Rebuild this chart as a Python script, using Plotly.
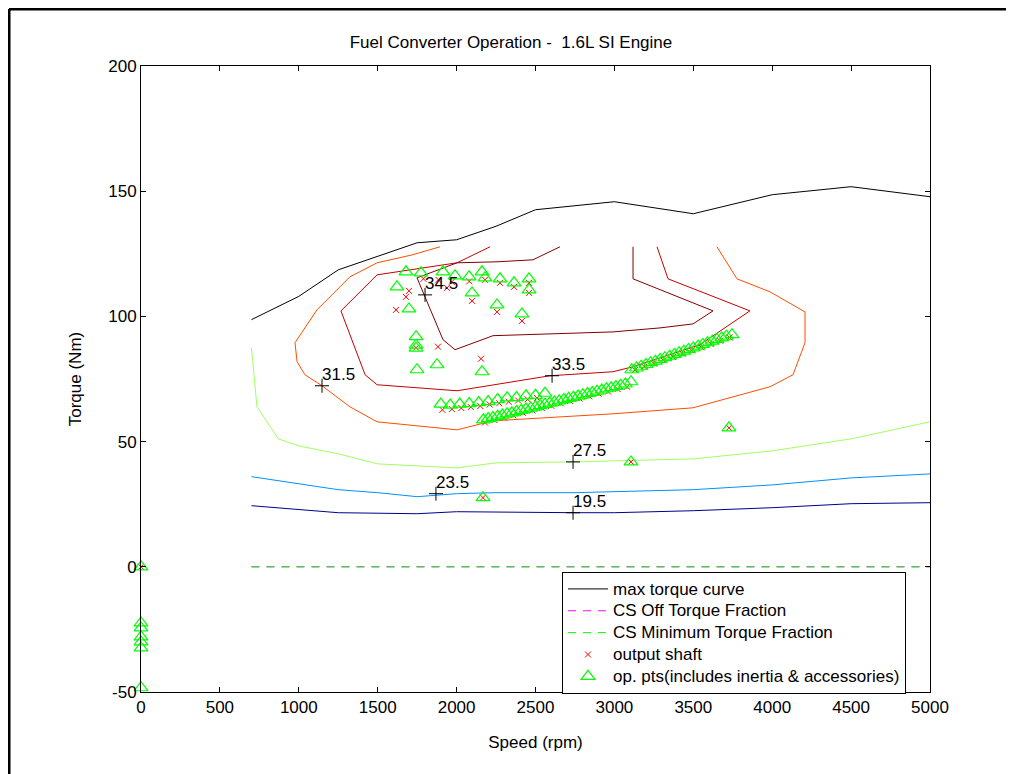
import plotly.graph_objects as go

# ---------------- data ----------------
max_trq_spd = [700, 1000, 1250, 1500, 1750, 2000, 2250, 2500, 3000, 3500, 4000, 4500, 5000]
max_trq = [98.7, 108.0, 118.6, 124.0, 129.4, 130.6, 136.0, 142.6, 145.8, 141.0, 148.6, 151.8, 147.8]

cs_line_spd = [700, 5000]
cs_off_trq = [0, 0]
cs_min_trq = [0, 0]

c195_spd = [700, 1250, 1750, 2000, 2750, 3000, 3500, 4000, 4500, 5000]
c195_trq = [24.4, 21.6, 21.2, 22.0, 21.6, 21.6, 22.4, 23.6, 25.2, 25.6]

c235_spd = [700, 1000, 1250, 1500, 1750, 2000, 2250, 2750, 3250, 3500, 4000, 4500, 5000]
c235_trq = [36.0, 33.0, 30.8, 29.6, 28.0, 29.2, 29.6, 29.6, 30.4, 30.8, 32.7, 35.5, 37.1]

c275_spd = [700, 735, 870, 1000, 1250, 1500, 2000, 2250, 2750, 3250, 3500, 4000, 4500, 5000]
c275_trq = [87.5, 63.9, 51.1, 48.3, 45.1, 41.1, 39.5, 41.5, 41.9, 42.7, 43.1, 46.3, 51.1, 57.9]

c315_spd = [1895, 1720, 1496, 1324, 1115, 976, 989, 1039, 1147, 1324, 1496, 2003, 2231, 2655,
            2991, 3498, 3986, 4132, 4208, 4208, 3986, 3777, 3650]
c315_trq = [127.8, 124.6, 121.4, 115.8, 102.6, 89.5, 81.9, 76.7, 72.3, 63.9, 57.9, 54.7, 58.3, 59.9,
            61.1, 63.5, 71.9, 76.7, 89.5, 101.8, 109.8, 115.0, 127.8]

c335_spd = [2212, 2003, 1496, 1267, 1420, 1496, 2003, 2592, 2991, 3118, 3542, 3859, 3340, 3270]
c335_trq = [127.8, 121.4, 116.6, 102.2, 76.7, 72.7, 70.3, 76.3, 77.9, 79.9, 88.7, 102.2, 115.0, 127.8]

c345_spd = [2655, 2484, 2256, 2003, 1749, 1914, 1990, 2231, 2991, 3289, 3498, 3625, 3118, 3118]
c345_trq = [127.8, 122.6, 121.8, 121.4, 115.4, 90.7, 86.7, 92.3, 93.8, 95.4, 97.0, 102.2, 115.0, 127.8]

label_vals = ["34.5", "33.5", "31.5", "27.5", "23.5", "19.5"]
label_spd = [1800, 2605, 1147, 2738, 1869, 2738]
label_trq = [108.6, 76.3, 72.3, 41.9, 29.2, 21.6]

op_spd = [0, 0, 0, 0, 0, 0, 0,
          1679, 1622, 1774, 1914, 1990, 2079, 2161, 2180, 2275, 2364, 2459, 2459, 2098, 2256, 2414,
          1698, 1743, 1743, 1743, 1749, 1876, 2161, 2167, 3105, 3726,
          1900, 1960, 2020, 2080, 2140, 2200, 2260, 2320, 2380, 2440, 2500, 2560,
          2170, 2200, 2230, 2260, 2290, 2320, 2350, 2380, 2410, 2440, 2470, 2500, 2530, 2560,
          2590, 2620, 2650, 2680, 2710, 2740, 2770, 2800, 2830, 2860, 2890, 2920, 2950, 2980,
          3010, 3040, 3070, 3105,
          3110, 3140, 3170, 3200, 3230, 3260, 3290, 3320, 3350, 3380, 3410, 3440, 3470, 3500,
          3530, 3560, 3590, 3620, 3650, 3680, 3710, 3745]
op_trq = [0, -22.4, -24.4, -28.0, -30.0, -32.4, -48.3,
          117.8, 111.8, 117.4, 117.8, 116.2, 115.8, 117.8, 115.4, 115.0, 113.4, 115.0, 110.6, 109.4, 104.6, 101.0,
          103.0, 91.9, 88.5, 87.3, 78.7, 80.7, 77.9, 27.6, 41.9, 55.5,
          65.0, 64.6, 65.0, 65.2, 65.6, 66.0, 66.8, 67.5, 67.6, 68.3, 68.5, 69.3,
          58.7, 59.2, 59.6, 60.1, 60.6, 61.1, 61.5, 62.0, 62.5, 63.0, 63.4, 63.9, 64.4, 64.9,
          65.4, 65.8, 66.3, 66.8, 67.3, 67.7, 68.2, 68.7, 69.2, 69.6, 70.1, 70.6, 71.1, 71.5,
          72.0, 72.5, 73.0, 73.9,
          78.7, 79.4, 80.1, 80.8, 81.5, 82.1, 82.8, 83.5, 84.1, 84.8, 85.5, 86.1, 86.8, 87.4,
          88.1, 88.8, 89.5, 90.1, 90.8, 91.4, 92.1, 92.7]

os_spd = [0,
          1698, 1679, 1616, 1882, 2155, 1743, 1939, 2098, 2256, 2414, 2459,
          1790, 1885, 1970, 2080, 2180, 2275, 2364, 2459,
          2167, 3105, 3726,
          1910, 1970, 2030, 2090, 2150, 2210, 2270, 2330, 2390, 2450, 2510,
          2180, 2240, 2300, 2360, 2420, 2480, 2540, 2600, 2660, 2720, 2780, 2840, 2900, 2960, 3020, 3080,
          3130, 3190, 3250, 3310, 3370, 3430, 3490, 3550, 3610, 3670, 3730]
os_trq = [0,
          110.2, 107.8, 102.6, 87.9, 83.1, 87.5, 111.4, 106.2, 101.8, 98.2, 109.4,
          115.0, 114.6, 113.8, 114.0, 114.6, 113.4, 111.8, 113.4,
          27.6, 41.9, 55.5,
          62.7, 63.0, 63.4, 63.8, 64.2, 64.8, 65.3, 65.9, 66.4, 66.9, 67.4,
          57.6, 58.6, 59.6, 60.5, 61.5, 62.4, 63.4, 64.3, 65.3, 66.2, 67.2, 68.1, 69.1, 70.0, 71.0, 71.9,
          78.6, 79.9, 81.2, 82.5, 83.8, 85.1, 86.4, 87.7, 89.0, 90.3, 91.6]

x_ticks = [0, 500, 1000, 1500, 2000, 2500, 3000, 3500, 4000, 4500, 5000]
y_ticks = [-50, 0, 50, 100, 150, 200]

legend_names = ["max torque curve", "CS Off Torque Fraction", "CS Minimum Torque Fraction",
                "output shaft", "op. pts(includes inertia & accessories)"]

FONT = "Liberation Sans, Arial, sans-serif"


def big(name):
    # legend text at full size while keeping MATLAB-like compact row spacing
    return '<span style="font-size:17px">' + name + '</span>'


# ---------------- figure ----------------
fig = go.Figure()

contours = [
    (c195_spd, c195_trq, "#00008F"),
    (c235_spd, c235_trq, "#0091FF"),
    (c275_spd, c275_trq, "#A1FF5E"),
    (c315_spd, c315_trq, "#FF4D00"),
    (c335_spd, c335_trq, "#C80000"),
    (c345_spd, c345_trq, "#800000"),
]
for xs, ys, col in contours:
    fig.add_trace(go.Scatter(x=xs, y=ys, mode="lines", line=dict(color=col, width=1),
                             showlegend=False, hoverinfo="skip"))

fig.add_trace(go.Scatter(x=max_trq_spd, y=max_trq, mode="lines", name=big(legend_names[0]),
                         line=dict(color="black", width=1)))
fig.add_trace(go.Scatter(x=cs_line_spd, y=cs_off_trq, mode="lines", name=big(legend_names[1]),
                         line=dict(color="#FF00FF", width=1, dash="8px,7px")))
fig.add_trace(go.Scatter(x=cs_line_spd, y=cs_min_trq, mode="lines", name=big(legend_names[2]),
                         line=dict(color="#00FF00", width=1, dash="8px,7px")))

# contour label crosses
fig.add_trace(go.Scatter(x=label_spd, y=label_trq, mode="markers",
                         marker=dict(symbol="cross-thin", size=10, line=dict(color="black", width=1)),
                         showlegend=False, hoverinfo="skip", cliponaxis=False))

fig.add_trace(go.Scatter(x=os_spd, y=os_trq, mode="markers", name=big(legend_names[3]),
                         marker=dict(symbol="x-thin", size=6, line=dict(color="red", width=1)),
                         cliponaxis=False))
fig.add_trace(go.Scatter(x=op_spd, y=op_trq, mode="markers", name=big(legend_names[4]),
                         marker=dict(symbol="triangle-up-open", size=12, color="#00FF00",
                                     line=dict(color="#00FF00", width=1.2)),
                         cliponaxis=False))

annotations = [
    dict(x=sx, y=ty, text=t, xref="x", yref="y", showarrow=False, xanchor="left", yanchor="bottom",
         xshift=-2, yshift=0, font=dict(family=FONT, size=17, color="black"))
    for sx, ty, t in zip(label_spd, label_trq, label_vals)
]

axis_common = dict(showline=True, linecolor="black", linewidth=1, mirror="ticks",
                   ticks="inside", ticklen=5, tickcolor="black", showgrid=False, zeroline=False,
                   tickfont=dict(family=FONT, size=17, color="black"))

fig.update_layout(
    width=1006, height=766,
    margin=dict(l=133, r=84, t=58, b=82),
    paper_bgcolor="white", plot_bgcolor="white",
    font=dict(family=FONT, size=17, color="black"),
    title=dict(text="Fuel Converter Operation -  1.6L SI Engine", x=0.5, xanchor="center",
               y=0.955, yanchor="middle", font=dict(size=17, color="black")),
    xaxis=dict(range=[0, 5000], tickvals=x_ticks, ticktext=[str(v) for v in x_ticks],
               title=dict(text="Speed (rpm)", font=dict(size=17), standoff=19), **axis_common),
    yaxis=dict(range=[-50, 200], tickvals=y_ticks, ticktext=[str(v) for v in y_ticks],
               title=dict(text="Torque (Nm)", font=dict(size=17), standoff=22), **axis_common),
    legend=dict(x=0.5336, y=0.1917, xanchor="left", yanchor="top", bgcolor="white",
                bordercolor="black", borderwidth=1,
                font=dict(family=FONT, size=14.5, color="black"),
                tracegroupgap=0, itemwidth=40),
    annotations=annotations,
    shapes=[
        dict(type="line", xref="paper", yref="paper", x0=-0.1673, x1=1.12, y0=1.0911, y1=1.0911,
             line=dict(color="black", width=3)),
        dict(type="line", xref="paper", yref="paper", x0=-0.1673, x1=-0.1673, y0=1.0911, y1=-0.2,
             line=dict(color="black", width=3)),
    ],
)

fig.write_html("out.html")
